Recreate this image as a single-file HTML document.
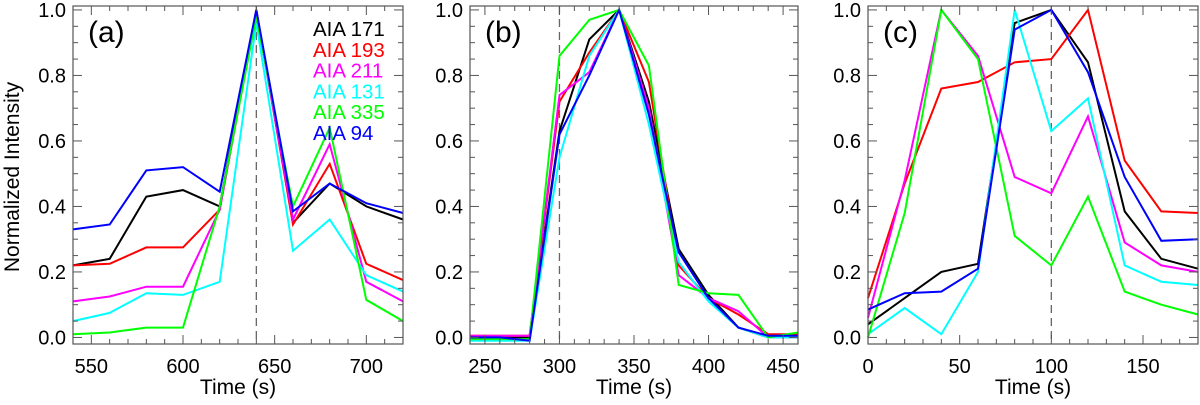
<!DOCTYPE html>
<html><head><meta charset="utf-8"><style>
html,body{margin:0;padding:0;background:#fff;}
svg{display:block;font-family:"Liberation Sans",Arial,sans-serif;}
</style></head><body>
<svg id="chart" width="1200" height="405" viewBox="0 0 1200 405" xmlns="http://www.w3.org/2000/svg">
<text x="0" y="0" transform="translate(19,177) rotate(-90)" text-anchor="middle" font-size="21">Normalized Intensity</text>
</svg>
<script>
// ---- data ----
const channels = ["AIA 171","AIA 193","AIA 211","AIA 131","AIA 335","AIA 94"];
const colors = ["#000000","#ff0000","#ff00ff","#00ffff","#00ff00","#0000ff"];
const timesA = [540,560,580,600,620,640,660,680,700,720];
const a171 = [0.22,0.24,0.43,0.45,0.40,1.0,0.35,0.47,0.40,0.36];
const a193 = [0.22,0.225,0.275,0.275,0.39,1.0,0.345,0.53,0.225,0.175];
const a211 = [0.11,0.125,0.155,0.155,0.39,0.99,0.36,0.59,0.17,0.11];
const a131 = [0.05,0.075,0.135,0.13,0.17,0.96,0.265,0.36,0.19,0.14];
const a335 = [0.01,0.015,0.03,0.03,0.40,0.98,0.40,0.64,0.115,0.05];
const a94  = [0.33,0.345,0.51,0.52,0.445,1.0,0.385,0.47,0.41,0.38];
const timesB = [240,260,280,300,320,340,360,380,400,420,440,460];
const b171 = [0.0,0.0,0.0,0.63,0.91,1.0,0.72,0.27,0.13,0.03,0.0,0.01];
const b193 = [0.005,0.005,0.005,0.72,0.87,1.0,0.78,0.22,0.12,0.07,0.01,0.01];
const b211 = [0.005,0.005,0.005,0.74,0.81,1.0,0.70,0.19,0.12,0.08,0.0,0.0];
const b131 = [-0.01,-0.01,-0.01,0.55,0.86,1.0,0.65,0.23,0.11,0.03,0.0,0.0];
const b335 = [-0.005,-0.005,-0.005,0.86,0.97,1.0,0.83,0.16,0.135,0.13,0.0,0.015];
const b94  = [0.0,0.0,-0.01,0.62,0.80,1.0,0.68,0.26,0.12,0.03,0.005,0.005];
const timesC = [0,20,40,60,80,100,120,140,160,180];
const c171 = [0.04,0.12,0.20,0.225,0.96,1.0,0.84,0.385,0.24,0.21];
const c193 = [0.12,0.47,0.76,0.78,0.84,0.85,1.0,0.54,0.385,0.38];
const c211 = [0.06,0.48,1.0,0.86,0.49,0.44,0.675,0.29,0.22,0.20];
const c131 = [0.01,0.09,0.01,0.20,1.0,0.63,0.73,0.22,0.17,0.16];
const c335 = [0.0,0.38,1.0,0.85,0.31,0.22,0.43,0.14,0.10,0.07];
const c94  = [0.085,0.135,0.14,0.21,0.94,1.0,0.81,0.49,0.295,0.30];
const yTicks = [0.0,0.2,0.4,0.6,0.8,1.0];
const xTicksA = [550,600,650,700];
const xTicksB = [250,300,350,400,450];
const xTicksC = [0,50,100,150];
const markers = [640,300,100];
const panelLabels = ["(a)","(b)","(c)"];

const NS="http://www.w3.org/2000/svg";
const svg=document.getElementById('chart');
function mk(tag,attrs,parent){const e=document.createElementNS(NS,tag);for(const k in attrs)e.setAttribute(k,attrs[k]);(parent||svg).appendChild(e);return e;}

const panels=[
 {key:'a',left:73,right:403,xmin:540,xmax:720,times:timesA,series:[a171,a193,a211,a131,a335,a94],ticks:xTicksA,minor:10},
 {key:'b',left:470,right:798,xmin:240,xmax:460,times:timesB,series:[b171,b193,b211,b131,b335,b94],ticks:xTicksB,minor:10},
 {key:'c',left:868,right:1198,xmin:0,xmax:180,times:timesC,series:[c171,c193,c211,c131,c335,c94],ticks:xTicksC,minor:10}
];
const plotTop=6,plotBottom=344,ymin=-0.02,ymax=1.012;

panels.forEach((p,pi)=>{
  const g=mk('g',{});
  
  
  const xs=v=>p.left+(v-p.xmin)/(p.xmax-p.xmin)*(p.right-p.left);
  const ys=v=>plotBottom-(v-ymin)/(ymax-ymin)*(plotBottom-plotTop);
  const dl=mk('line',{x1:xs(markers[pi]),x2:xs(markers[pi]),y1:plotTop,y2:plotBottom,stroke:'#666','stroke-width':1.3,'stroke-dasharray':'8,5'},g);
  
  
  p.series.forEach((s,si)=>{
    const pts=s.map((v,i)=>xs(p.times[i]).toFixed(1)+','+ys(v).toFixed(1)).join(' ');
    const pl=mk('polyline',{points:pts,fill:'none',stroke:colors[si],'stroke-width':2,'stroke-linejoin':'miter'},g);
    
    
  });
  const fr=mk('rect',{x:p.left,y:plotTop,width:p.right-p.left,height:plotBottom-plotTop,fill:'none',stroke:'#555','stroke-width':1.2},g);
  
  
  for(let t=Math.ceil(p.xmin/p.minor)*p.minor;t<=p.xmax;t+=p.minor){
    const maj=(t%50===0);const L=maj?9:5;const x=xs(t);
    mk('line',{x1:x,x2:x,y1:plotBottom,y2:plotBottom-L,stroke:'#555','stroke-width':1},g);
    mk('line',{x1:x,x2:x,y1:plotTop,y2:plotTop+L,stroke:'#555','stroke-width':1},g);
  }
  p.ticks.forEach(t=>{
    const tx=mk('text',{x:xs(t),y:373,'text-anchor':'middle','font-size':20},g);
    tx.textContent=t;
    
    
  });
  for(let k=0;k<=20;k++){
    const v=k*0.05;const maj=(k%4===0);const L=maj?9:5;const y=ys(v);
    mk('line',{x1:p.left,x2:p.left+L,y1:y,y2:y,stroke:'#555','stroke-width':1},g);
    mk('line',{x1:p.right,x2:p.right-L,y1:y,y2:y,stroke:'#555','stroke-width':1},g);
  }
  yTicks.forEach(v=>{
    const tx=mk('text',{x:p.left-7,y:ys(v)+7,'text-anchor':'end','font-size':20},g);
    tx.textContent=v.toFixed(1);
    
    
  });
  const xt=mk('text',{x:(p.left+p.right)/2,y:394,'text-anchor':'middle','font-size':21},g);
  xt.textContent='Time (s)';
  
  
  const pl=mk('text',{x:p.left+15,y:42,'font-size':30},g);
  pl.textContent=panelLabels[pi];
  
  
});
const lg=mk('g',{});


channels.forEach((c,i)=>{
  const t=mk('text',{x:313,y:36+i*20.8,'font-size':20.5,fill:colors[i]},lg);
  t.textContent=c;
  
  
});
</script>
</body></html>
